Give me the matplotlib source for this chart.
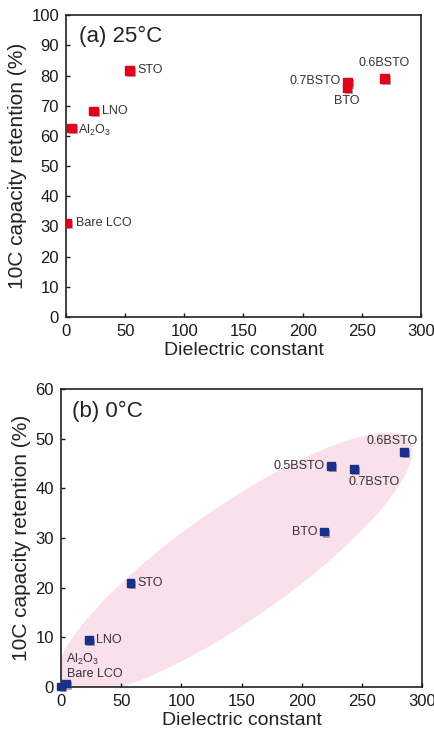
import matplotlib
matplotlib.use("Agg")
import matplotlib.pyplot as plt
import matplotlib.patheffects as pe
import matplotlib.transforms as mtransforms
from matplotlib.patches import Ellipse

plt.rcParams['font.family'] = ['Liberation Sans', 'DejaVu Sans']
plt.rcParams['mathtext.fontset'] = 'custom'
plt.rcParams['mathtext.rm'] = 'Liberation Sans'
plt.rcParams['mathtext.default'] = 'regular'

# ---- data ----
labels_a = ["Bare LCO", "Al$_2$O$_3$", "LNO", "STO", "0.7BSTO", "BTO", "0.6BSTO"]
eps_a = [0.5, 4.5, 23.5, 53.8, 238, 237.5, 269]
ret_a = [31.2, 62.6, 68.3, 81.7, 77.8, 75.9, 79.1]

labels_b = ["Bare LCO", "Al$_2$O$_3$", "LNO", "STO", "BTO", "0.5BSTO", "0.7BSTO", "0.6BSTO"]
eps_b = [0.3, 4.4, 23.3, 57.7, 218.8, 224.6, 243.2, 285.3]
ret_b = [0.1, 0.7, 9.4, 20.9, 31.3, 44.5, 43.9, 47.3]

xticks = [0, 50, 100, 150, 200, 250, 300]
yticks_a = [0, 10, 20, 30, 40, 50, 60, 70, 80, 90, 100]
yticks_b = [0, 10, 20, 30, 40, 50, 60]

# label placement (offset pixels, ha, va)
place_a = {
    "Bare LCO": (9, 0, 'left', 'center'),
    "Al$_2$O$_3$": (7, -2, 'left', 'center'),
    "LNO": (8, 0, 'left', 'center'),
    "STO": (8, 0, 'left', 'center'),
    "0.7BSTO": (-7, 1, 'right', 'center'),
    "BTO": (0, -13, 'center', 'center'),
    "0.6BSTO": (0, 15, 'center', 'center'),
}
place_b = {
    "Bare LCO": (6, 13, 'left', 'center'),
    "Al$_2$O$_3$": (0, 24, 'left', 'center'),
    "LNO": (7, 0, 'left', 'center'),
    "STO": (7, 0, 'left', 'center'),
    "BTO": (-7, 0, 'right', 'center'),
    "0.5BSTO": (-7, 0, 'right', 'center'),
    "0.7BSTO": (-5, -13, 'left', 'center'),
    "0.6BSTO": (-12, 11, 'center', 'center'),
}

fig = plt.figure(figsize=(4.35, 7.34), dpi=100)
ax1 = fig.add_axes([0.1517, 0.568, 0.816, 0.4114])
ax2 = fig.add_axes([0.1402, 0.064, 0.830, 0.406])

shadow = [pe.SimplePatchShadow(offset=(1.5, -1.5), alpha=0.45, shadow_rgbFace='0.3'), pe.Normal()]


def style(ax, yticks, ylim):
    ax.set_xlim(0, 300)
    ax.set_ylim(*ylim)
    ax.set_xticks(xticks)
    ax.set_yticks(yticks)
    ax.tick_params(direction='in', length=3, width=1, labelsize=12, colors='#1a1a1a',
                   top=False, right=False, pad=5)
    for s in ax.spines.values():
        s.set_linewidth(1.2)
        s.set_color('#222222')
    ax.set_xlabel("Dielectric constant", fontsize=14, color='#222222', labelpad=2)
    ax.set_ylabel("10C capacity retention (%)", fontsize=15, color='#222222', labelpad=3)


# ---- panel (a) ----
style(ax1, yticks_a, (0, 100))
ax1.plot(eps_a, ret_a, ls='none', marker='s', ms=6.2, color='#e3001b', mec='#e3001b',
         path_effects=shadow, zorder=3)
for lab, x, y in zip(labels_a, eps_a, ret_a):
    dx, dy, ha, va = place_a[lab]
    ax1.annotate(lab, (x, y), xytext=(dx, dy), textcoords='offset pixels',
                 ha=ha, va=va, fontsize=9, color='#333333')
ax1.text(0.036, 0.93, "(a) 25°C", transform=ax1.transAxes, fontsize=16,
         ha='left', va='center', color='#222222')

# ---- panel (b) ----
style(ax2, yticks_b, (0, 60))
# highlighting ellipse (center in data units, size in pixels)
ell_center = (144, 24.8)
ell = Ellipse((0, 0), 428, 112, angle=35.0, facecolor='#fae0ea', edgecolor='none', zorder=0,
              transform=mtransforms.ScaledTranslation(ell_center[0], ell_center[1], ax2.transData))
ax2.add_patch(ell)
ax2.plot(eps_b, ret_b, ls='none', marker='s', ms=5.6, color='#1a2f8a', mec='#1a2f8a',
         path_effects=shadow, zorder=3, clip_on=False)
for lab, x, y in zip(labels_b, eps_b, ret_b):
    dx, dy, ha, va = place_b[lab]
    ax2.annotate(lab, (x, y), xytext=(dx, dy), textcoords='offset pixels',
                 ha=ha, va=va, fontsize=9, color='#333333')
ax2.text(0.031, 0.924, "(b) 0°C", transform=ax2.transAxes, fontsize=16,
         ha='left', va='center', color='#222222')

fig.savefig("out.png", dpi=100, facecolor='white')
